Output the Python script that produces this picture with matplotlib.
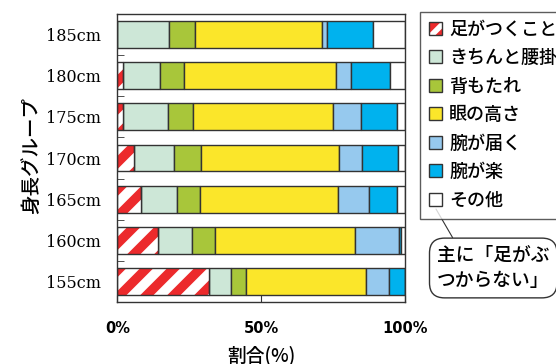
import matplotlib.pyplot as plt
from matplotlib.patches import Patch
from matplotlib.collections import LineCollection
from matplotlib.transforms import IdentityTransform
from matplotlib.legend_handler import HandlerTuple
from matplotlib.ticker import FixedLocator

plt.rcParams['font.family'] = ['Noto Sans CJK JP', 'DejaVu Sans']
plt.rcParams['hatch.linewidth'] = 4.0

# height groups, bottom to top
groups = ['155cm', '160cm', '165cm', '170cm', '175cm', '180cm', '185cm']
labels = ['足がつくこと', 'きちんと腰掛け', '背もたれ', '眼の高さ', '腕が届く', '腕が楽', 'その他']

# share (%) of each reason per group
foot = [31.7, 14.0, 8.2, 5.9, 2.0, 2.0, 0.0]
seated = [7.7, 11.8, 12.4, 13.7, 15.5, 12.8, 17.8]
backrest = [5.2, 8.0, 8.0, 9.4, 8.7, 8.4, 9.1]
eye_level = [42.0, 48.8, 48.1, 48.2, 49.0, 52.8, 44.2]
arm_reach = [8.1, 15.5, 10.8, 8.1, 9.5, 5.2, 2.0]
arm_easy = [5.3, 0.7, 9.7, 12.2, 12.5, 13.6, 15.8]
other = [0.0, 1.2, 2.8, 2.5, 2.8, 5.2, 11.1]

red = '#EC2A2C'
colors = ['#CDE7D7', '#A8C63A', '#FBE62A', '#96C9EE', '#00B2EE', 'white']
edge = '#333333'

fig = plt.figure(figsize=(5.56, 3.64), dpi=100)
ax = fig.add_axes([0.2113, 0.1703, 0.5166, 0.7912])

y = range(len(groups))
h = 0.65

# red segment with wide white diagonal stripes clipped to each bar
red_bars = ax.barh(y, foot, height=h, color=red, linewidth=0)
bb = ax.bbox
step = 27
segs = []
t = bb.x0 - bb.height
while t < bb.x1:
    segs.append([(t, bb.y0), (t + bb.height, bb.y1)])
    t += step
for rect in red_bars:
    lc = LineCollection(segs, colors='white', linewidths=7, transform=IdentityTransform(), zorder=1.5)
    ax.add_collection(lc, autolim=False)
    lc.set_clip_path(rect)
ax.barh(y, foot, height=h, fill=False, edgecolor=edge, linewidth=1, zorder=3)

left = list(foot)
handles = [(Patch(facecolor=red, edgecolor='white', hatch='/', linewidth=0),
            Patch(fill=False, edgecolor=edge, linewidth=1))]
for vals, c in zip([seated, backrest, eye_level, arm_reach, arm_easy, other], colors):
    bars = ax.barh(y, vals, left=left, height=h, color=c, edgecolor=edge, linewidth=1)
    handles.append(bars)
    left = [a + b for a, b in zip(left, vals)]

ax.set_xlim(0, 100)
ax.set_ylim(-0.5, 6.5)
for s in ax.spines.values():
    s.set_color(edge)
    s.set_linewidth(1)

ax.set_xticks([0, 50, 100])
ax.set_xticklabels(['0%', '50%', '100%'], fontfamily='DejaVu Sans', fontweight='bold', fontsize=10.5)
ax.tick_params(axis='x', direction='in', length=5, color=edge, pad=14)
ax.set_yticks(list(y))
ax.set_yticklabels(groups, fontfamily='DejaVu Serif', fontsize=11.5)
ax.tick_params(axis='y', which='major', length=0, pad=12)
ax.yaxis.set_minor_locator(FixedLocator([i - 0.5 for i in range(len(groups) + 1)]))
ax.tick_params(axis='y', which='minor', direction='in', length=5, color=edge)

ax.set_xlabel('割合(%)', fontsize=13.5, fontweight='medium')
ax.xaxis.set_label_coords(0.5, -0.150)
ax.set_ylabel('身長グループ', fontsize=14, fontweight='medium')
ax.yaxis.set_label_coords(-0.265, 0.507)

leg = fig.legend(handles, labels, loc='upper left', bbox_to_anchor=(420 / 556, 1 - 11.7 / 364),
                 borderaxespad=0, prop=dict(size=13, weight='medium'), frameon=True,
                 fancybox=False, edgecolor=edge, handlelength=0.72, handleheight=0.72,
                 handletextpad=0.4, borderpad=0.5, labelspacing=0.58,
                 handler_map={tuple: HandlerTuple(ndivide=1)})
leg.get_frame().set_linewidth(1)

ax.annotate('主に「足がぶ\nつからない」', xy=(436 / 556, 1 - 209 / 364), xycoords='figure fraction',
            xytext=(437 / 556, 1 - 268 / 364), textcoords='figure fraction',
            ha='left', va='center', fontsize=13.5, fontweight='medium', linespacing=1.45,
            bbox=dict(boxstyle='round,pad=0.4,rounding_size=0.8', fc='white', ec=edge, lw=1),
            arrowprops=dict(arrowstyle='-', color=edge, lw=0.8, relpos=(0.18, 1.0),
                            shrinkA=0, shrinkB=0),
            annotation_clip=False)

fig.savefig('out.png', dpi=100)
